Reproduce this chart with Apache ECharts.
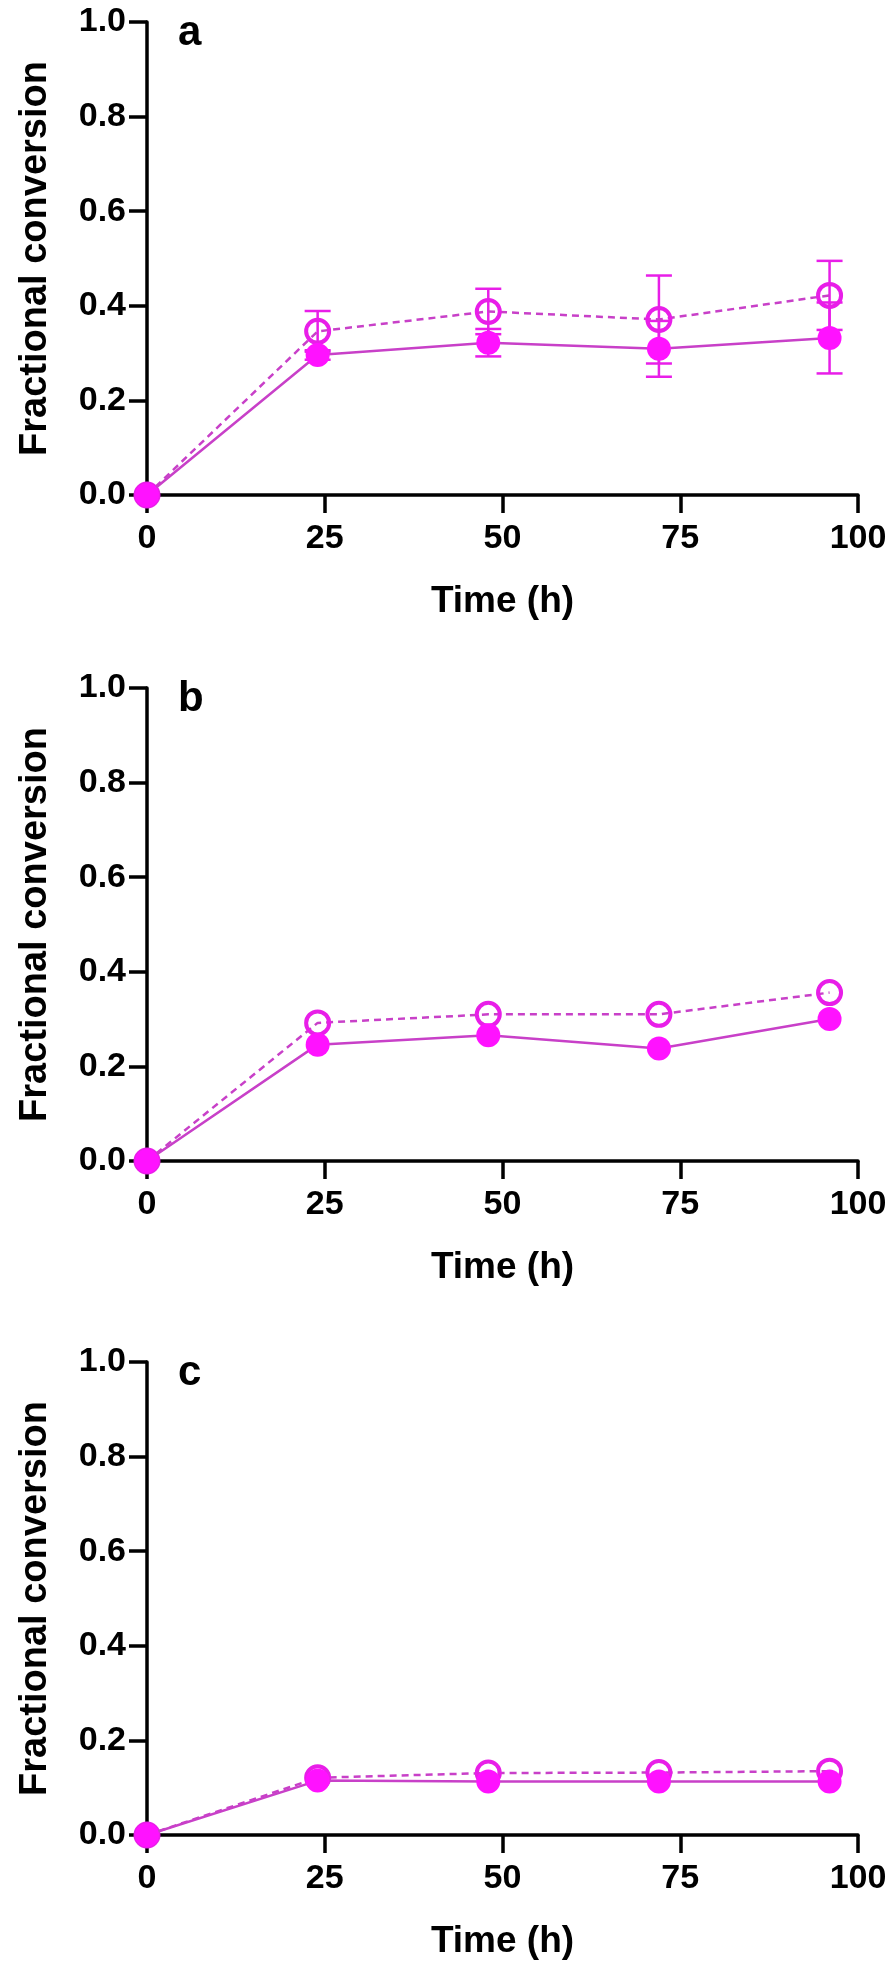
<!DOCTYPE html>
<html>
<head>
<meta charset="utf-8">
<script src="https://cdn.jsdelivr.net/npm/echarts@6/dist/echarts.min.js"></script>
<style>
html,body{margin:0;padding:0;background:#fff;}
#chart{width:896px;height:1967px;}
</style>
</head>
<body>
<div id="chart"></div>
<script>
// ---- data ----
const timeH = [0, 24, 48, 72, 96];
const xTicks = [0, 25, 50, 75, 100];
const yTicks = [0.0, 0.2, 0.4, 0.6, 0.8, 1.0];
const panelLetters = ['a', 'b', 'c'];

const aOpen = [0, 0.346, 0.388, 0.371, 0.422];
const aOpenErr = [0, 0.043, 0.048, 0.093, 0.073];
const aFilled = [0, 0.296, 0.322, 0.309, 0.332];
const aFilledErr = [0, 0.010, 0.029, 0.059, 0.075];

const bOpen = [0, 0.292, 0.310, 0.310, 0.356];
const bFilled = [0, 0.246, 0.266, 0.238, 0.300];

const cOpen = [0, 0.121, 0.131, 0.132, 0.135];
const cFilled = [0, 0.115, 0.113, 0.113, 0.113];

// ---- styling ----
const MAG = '#ff12ff';
const LINE = '#c840c8';
const BAR = '#e81ee8';
const font = '"Liberation Sans", Arial, sans-serif';

const panels = [
  {open: aOpen, openErr: aOpenErr, filled: aFilled, filledErr: aFilledErr},
  {open: bOpen, openErr: null, filled: bFilled, filledErr: null},
  {open: cOpen, openErr: null, filled: cFilled, filledErr: null}
];
const gridTops = [22, 688, 1362];
const gridH = 473;

const grids = [], xAxes = [], yAxes = [], series = [], graphics = [];

function pairs(vals){ return timeH.map((t,i)=>[t, vals[i]]); }

panels.forEach((p, k) => {
  grids.push({left: 147, width: 711, top: gridTops[k], height: gridH, containLabel: false});
  xAxes.push({
    type: 'value', gridIndex: k, min: xTicks[0], max: xTicks[xTicks.length-1], interval: 25,
    splitLine: {show: false},
    axisLine: {show: true, onZero: false, lineStyle: {color: '#000', width: 3.5}},
    axisTick: {show: true, length: 18, lineStyle: {color: '#000', width: 3.5}},
    axisLabel: {margin: 27, color: '#000', fontSize: 34, fontWeight: 'bold', fontFamily: font},
    name: 'Time (h)', nameLocation: 'middle', nameGap: 88,
    nameTextStyle: {color: '#000', fontSize: 37, fontWeight: 'bold', fontFamily: font}
  });
  yAxes.push({
    type: 'value', gridIndex: k, min: yTicks[0], max: yTicks[yTicks.length-1], interval: 0.2,
    splitLine: {show: false},
    axisLine: {show: true, onZero: false, lineStyle: {color: '#000', width: 3.5}},
    axisTick: {show: true, length: 18, lineStyle: {color: '#000', width: 3.5}},
    axisLabel: {margin: 21, color: '#000', fontSize: 34, fontWeight: 'bold', fontFamily: font,
      formatter: v => v.toFixed(1)},
    name: 'Fractional conversion', nameLocation: 'middle', nameGap: 92, nameRotate: 90,
    nameTextStyle: {color: '#000', fontSize: 38, fontWeight: 'bold', fontFamily: font}
  });

  // error bars
  const errData = [];
  if (p.openErr) p.open.forEach((v,i)=>{ if (p.openErr[i] > 0) errData.push([timeH[i], v, p.openErr[i]]); });
  if (p.filledErr) p.filled.forEach((v,i)=>{ if (p.filledErr[i] > 0) errData.push([timeH[i], v, p.filledErr[i]]); });
  if (errData.length) {
    series.push({
      type: 'custom', xAxisIndex: k, yAxisIndex: k, z: 1, clip: false,
      data: errData,
      renderItem: (params, api) => {
        const x = api.value(0), y = api.value(1), e = api.value(2);
        const hi = api.coord([x, y + e]);
        const lo = api.coord([x, y - e]);
        const hw = 13;
        const st = {stroke: BAR, lineWidth: 2.5};
        return {type: 'group', children: [
          {type: 'line', shape: {x1: hi[0], y1: hi[1], x2: lo[0], y2: lo[1]}, style: st},
          {type: 'line', shape: {x1: hi[0]-hw, y1: hi[1], x2: hi[0]+hw, y2: hi[1]}, style: st},
          {type: 'line', shape: {x1: lo[0]-hw, y1: lo[1], x2: lo[0]+hw, y2: lo[1]}, style: st}
        ]};
      }
    });
  }
  // open (dashed)
  series.push({
    type: 'line', xAxisIndex: k, yAxisIndex: k, z: 2, clip: false,
    data: pairs(p.open),
    symbol: 'circle', symbolSize: 23,
    itemStyle: {color: 'rgba(255,255,255,0)', borderColor: BAR, borderWidth: 4},
    lineStyle: {color: LINE, width: 2.5, type: [7, 5]},
    animation: false
  });
  // filled (solid)
  series.push({
    type: 'line', xAxisIndex: k, yAxisIndex: k, z: 3, clip: false,
    data: pairs(p.filled),
    symbol: 'circle', symbolSize: 24,
    itemStyle: {color: MAG, borderWidth: 0},
    lineStyle: {color: LINE, width: 2.5, type: 'solid'},
    animation: false
  });

  graphics.push({
    type: 'text', left: 178, top: gridTops[k] - 10,
    style: {text: panelLetters[k], fill: '#000', fontSize: 42, fontWeight: 'bold', fontFamily: font}
  });
});

const chart = echarts.init(document.getElementById('chart'), null, {renderer: 'canvas'});
chart.setOption({
  animation: false,
  backgroundColor: '#fff',
  grid: grids, xAxis: xAxes, yAxis: yAxes, series: series, graphic: graphics
});
</script>
</body>
</html>
